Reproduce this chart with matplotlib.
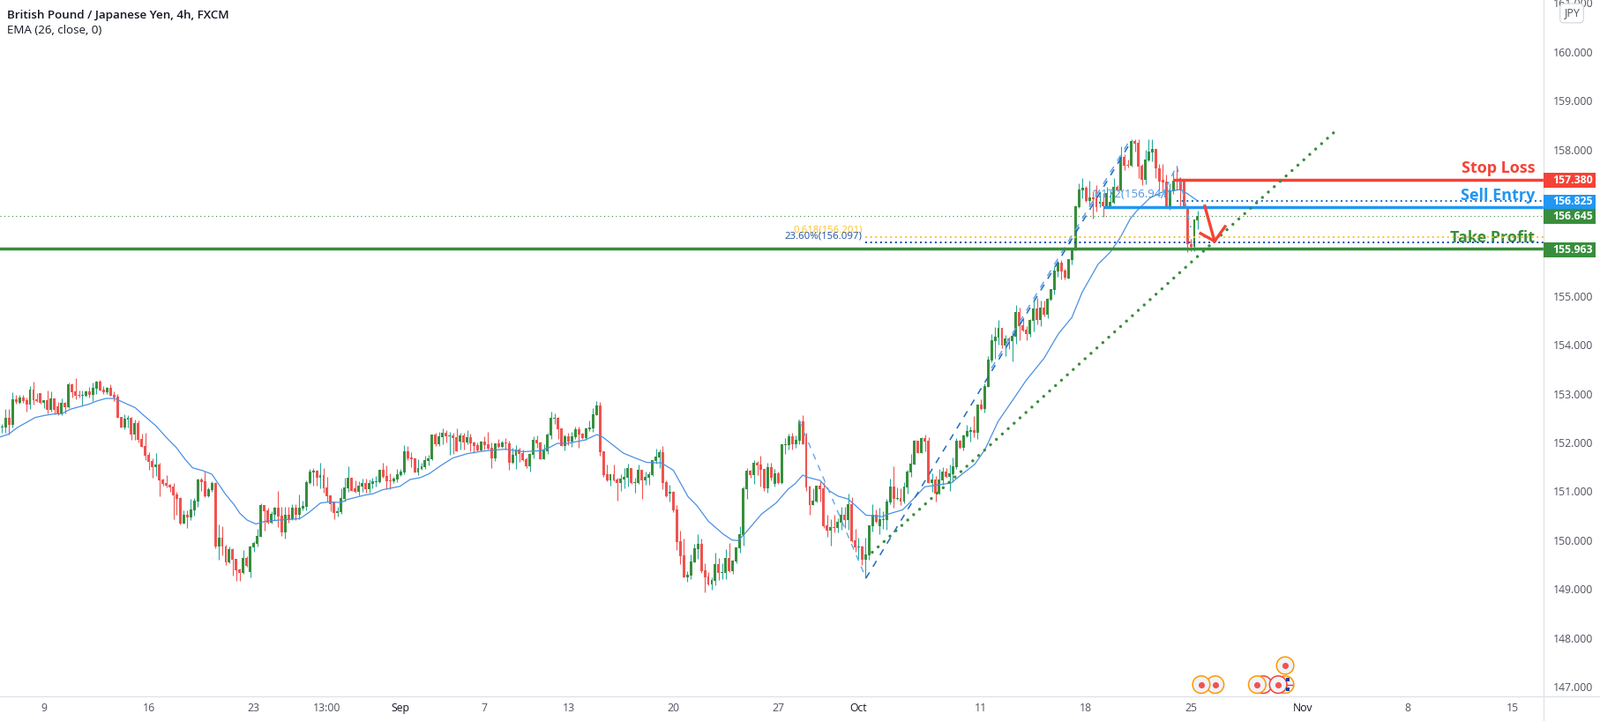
import numpy as np
import matplotlib
matplotlib.use('Agg')
import matplotlib.pyplot as plt

plt.rcParams['font.family'] = 'Open Sans'

# 4h candles
opens = [
    152.31,152.31,152.51,152.36,152.89,152.81,152.92,152.87,152.78,153.08,
    152.88,153.01,152.81,152.87,152.67,152.90,152.74,152.58,152.81,152.72,
    153.19,153.05,152.97,152.96,152.96,153.05,152.97,153.10,153.25,153.08,
    153.03,153.12,152.97,152.94,152.52,152.31,152.47,152.51,152.16,152.40,
    152.07,151.93,151.75,151.62,151.49,151.55,151.24,151.17,151.13,151.10,
    150.93,150.86,150.34,150.52,150.47,150.61,150.79,151.24,151.21,150.90,
    151.02,151.17,149.87,150.05,149.87,149.55,149.82,149.62,149.40,149.33,
    149.64,149.35,149.85,149.92,150.07,150.72,150.61,150.36,150.52,150.66,
    150.50,150.16,150.52,150.43,150.66,150.52,150.65,150.68,151.17,151.39,
    151.42,151.28,151.33,151.08,150.92,150.77,150.56,150.57,150.84,151.06,
    151.28,151.06,150.99,151.10,151.17,151.04,151.15,151.19,151.19,151.44,
    151.31,151.22,151.21,151.24,151.33,151.39,151.82,151.69,151.67,151.39,
    151.46,151.49,151.62,151.66,152.16,151.96,152.11,152.20,152.13,152.14,
    152.11,152.02,152.14,152.00,152.11,152.00,151.95,151.84,152.02,151.96,
    151.89,151.67,151.98,151.91,152.00,151.98,151.58,151.73,151.86,151.78,
    151.66,151.51,151.75,152.05,152.00,151.66,151.82,152.14,152.49,152.51,
    152.29,151.93,152.13,152.02,152.11,152.27,152.18,152.09,152.27,152.29,
    152.56,152.76,151.82,151.35,151.22,151.35,151.24,151.17,151.24,151.28,
    151.48,151.17,151.17,151.44,151.22,151.28,151.33,151.62,151.69,151.80,
    151.19,150.95,150.99,150.63,149.98,149.69,149.24,149.27,149.55,149.82,
    149.92,149.38,149.26,149.09,149.17,149.51,149.33,149.33,149.64,149.36,
    149.56,149.83,150.10,151.04,151.42,151.33,151.58,151.55,151.46,151.06,
    151.49,151.15,151.37,151.17,151.95,151.95,152.13,151.96,152.04,152.43,
    152.14,151.10,150.72,150.79,151.12,151.06,150.30,150.20,150.27,150.25,
    150.36,150.52,150.41,150.74,150.00,149.85,149.87,149.60,149.69,150.29,
    150.52,150.29,150.41,150.41,150.77,151.10,150.84,150.86,150.79,151.08,
    151.39,151.55,152.04,151.78,152.09,152.04,151.17,151.24,150.95,151.22,
    151.40,151.30,151.35,151.49,152.04,151.89,152.13,152.22,152.25,152.20,
    152.78,152.69,153.14,153.68,154.08,154.15,154.35,153.99,154.13,154.08,
    154.17,154.67,154.40,154.31,154.22,154.49,154.74,154.51,154.76,154.62,
    154.92,155.12,155.50,155.68,155.52,155.36,155.74,155.93,156.82,157.16,
    157.22,156.95,157.02,157.00,156.89,156.93,156.84,156.84,156.91,157.23,
    157.16,157.85,157.69,157.67,158.17,158.14,157.67,157.38,157.78,157.94,
    158.01,157.61,157.38,157.34,156.84,157.14,157.38,157.40,157.36,156.82,
    156.06,156.01,156.55,
]
highs = [
    152.38,152.69,152.69,153.03,152.97,152.97,152.97,152.92,153.16,153.25,
    153.01,153.01,152.87,153.06,153.05,152.90,152.83,152.90,152.83,153.23,
    153.21,153.32,153.06,153.06,153.06,153.14,153.23,153.26,153.28,153.16,
    153.14,153.19,153.05,152.99,152.52,152.58,152.56,152.52,152.47,152.45,
    152.18,152.20,151.80,151.67,151.78,151.58,151.26,151.33,151.15,151.17,
    150.99,150.88,150.61,150.61,150.84,150.86,151.26,151.28,151.40,151.08,
    151.21,151.19,150.32,150.28,149.91,149.87,149.83,149.62,149.42,149.80,
    149.67,149.89,149.98,150.23,150.75,150.72,150.66,150.59,150.68,151.01,
    150.68,150.68,150.68,150.74,150.74,150.93,150.81,151.22,151.46,151.48,
    151.44,151.58,151.48,151.30,150.92,150.79,150.68,151.06,151.28,151.51,
    151.28,151.22,151.21,151.26,151.26,151.24,151.28,151.31,151.44,151.58,
    151.53,151.37,151.30,151.46,151.46,151.95,151.93,151.80,151.67,151.66,
    151.58,151.73,151.75,152.16,152.20,152.22,152.29,152.25,152.22,152.20,
    152.29,152.20,152.20,152.25,152.18,152.02,152.00,152.04,152.13,152.22,
    152.00,151.98,152.07,152.04,152.09,152.04,151.89,151.95,151.89,151.86,
    151.69,151.78,152.13,152.14,152.02,151.96,152.20,152.63,152.60,152.52,
    152.29,152.16,152.20,152.22,152.32,152.32,152.20,152.31,152.45,152.70,
    152.85,152.83,151.82,151.55,151.35,151.55,151.28,151.35,151.48,151.57,
    151.48,151.28,151.55,151.44,151.40,151.40,151.64,151.87,151.86,151.93,
    151.22,151.13,151.01,150.72,150.20,150.03,149.36,149.71,149.92,150.12,
    150.03,149.53,149.35,149.24,149.74,149.64,149.53,149.82,149.94,149.60,
    149.85,150.29,151.10,151.48,151.44,151.64,151.62,151.73,151.46,151.58,
    151.58,151.46,151.40,151.96,152.09,152.18,152.20,152.14,152.47,152.56,
    152.20,151.12,151.06,151.12,151.21,151.19,150.52,150.43,150.52,150.45,
    150.68,150.68,150.95,150.88,150.23,150.05,149.89,150.05,150.30,150.74,
    150.63,150.66,150.59,150.84,151.26,151.51,151.08,151.06,151.19,151.44,
    151.77,152.05,152.04,152.11,152.16,152.11,151.37,151.31,151.46,151.49,
    151.48,151.55,151.69,152.09,152.05,152.16,152.36,152.33,152.54,152.78,
    152.88,153.21,153.77,154.22,154.36,154.51,154.35,154.20,154.17,154.27,
    154.82,154.76,154.56,154.38,154.53,154.89,154.96,154.90,154.90,154.96,
    155.14,155.59,155.72,155.74,155.56,155.75,155.97,156.86,157.31,157.41,
    157.25,157.36,157.14,157.27,157.14,157.11,157.24,157.16,157.41,157.27,
    158.06,157.90,157.79,158.21,158.21,158.21,157.70,157.99,158.21,158.21,
    158.01,157.70,157.70,157.49,157.31,157.54,157.67,157.43,157.36,156.82,
    156.17,156.57,156.75,
]
lows = [
    152.20,152.20,152.16,152.31,152.79,152.79,152.81,152.63,152.69,152.78,
    152.83,152.79,152.70,152.60,152.63,152.58,152.56,152.56,152.60,152.70,
    152.92,152.88,152.92,152.76,152.94,152.92,152.85,152.99,153.06,152.99,
    152.99,152.96,152.85,152.51,152.31,152.27,152.31,152.05,152.05,152.00,
    151.91,151.64,151.44,151.28,151.31,150.90,151.12,151.08,150.99,150.43,
    150.52,150.32,150.34,150.25,150.41,150.50,150.68,151.01,150.88,150.88,
    150.99,149.83,149.60,149.69,149.49,149.53,149.27,149.17,149.17,149.31,
    149.45,149.24,149.76,149.87,150.07,150.20,150.34,150.34,150.41,150.27,
    150.09,150.03,150.36,150.41,150.41,150.43,150.61,150.61,151.15,151.12,
    151.12,151.06,150.97,150.79,150.59,150.43,150.48,150.54,150.79,150.99,
    151.01,150.97,150.92,150.99,150.97,150.97,151.06,151.10,151.17,151.28,
    151.04,151.04,151.17,151.19,151.31,151.35,151.64,151.49,151.39,151.33,
    151.44,151.46,151.53,151.64,151.93,151.93,151.96,152.00,151.75,151.77,
    151.82,151.86,151.86,151.96,151.82,151.78,151.82,151.82,151.86,151.86,
    151.48,151.62,151.89,151.89,151.86,151.44,151.57,151.46,151.60,151.62,
    151.48,151.40,151.67,151.89,151.66,151.66,151.77,152.07,152.38,152.07,
    151.93,151.84,151.95,151.91,152.07,151.89,152.07,152.05,152.23,152.22,
    152.56,151.73,151.30,151.21,151.12,151.21,150.81,151.01,151.06,151.10,
    151.15,150.97,151.15,150.84,151.13,151.13,151.31,151.57,151.48,151.04,
    150.88,150.79,150.57,149.80,149.51,149.24,149.15,149.20,149.54,149.62,
    149.33,148.93,149.08,148.99,149.08,149.18,149.20,149.20,149.35,149.31,
    149.53,149.74,149.89,150.84,151.28,151.15,151.33,151.10,151.01,150.97,
    151.22,151.10,151.15,151.15,151.77,151.86,151.86,151.89,151.96,151.96,
    151.01,150.52,150.72,150.77,150.79,150.25,150.07,149.89,150.16,150.16,
    150.21,150.25,150.21,149.96,149.76,149.62,149.49,149.22,149.60,150.18,
    150.36,150.12,150.23,150.21,150.74,150.66,150.83,150.72,150.75,150.95,
    151.30,151.55,151.78,151.78,151.82,151.17,150.99,150.79,150.93,151.13,
    151.28,151.01,151.19,151.46,151.87,151.84,152.11,152.02,152.11,152.07,
    152.67,152.61,153.14,153.64,153.71,154.00,153.93,153.77,153.91,153.66,
    154.02,154.09,154.27,154.09,154.17,154.27,154.42,154.38,154.58,154.54,
    154.91,155.03,155.39,155.34,155.34,155.36,155.65,155.93,156.80,157.00,
    156.93,156.84,156.58,156.73,156.82,156.62,156.82,156.82,156.89,157.15,
    157.14,157.58,157.63,157.65,157.96,157.41,157.27,157.29,157.76,157.76,
    157.41,157.16,157.16,156.84,156.77,157.09,157.18,156.84,156.80,155.90,
    155.92,155.92,156.37,
]
closes = [
    152.32,152.51,152.36,152.89,152.82,152.92,152.85,152.78,153.08,152.87,
    152.85,152.81,152.87,152.67,152.90,152.67,152.58,152.81,152.72,153.19,
    153.03,152.96,152.96,152.97,153.05,152.97,153.12,153.25,153.06,153.03,
    153.12,152.96,152.92,152.51,152.31,152.49,152.51,152.16,152.40,152.05,
    151.91,151.73,151.60,151.49,151.55,151.22,151.15,151.12,151.08,150.92,
    150.85,150.34,150.52,150.47,150.63,150.81,151.24,151.19,150.89,151.04,
    151.17,149.87,150.05,149.87,149.55,149.82,149.60,149.38,149.33,149.64,
    149.47,149.87,149.94,150.09,150.72,150.59,150.36,150.54,150.66,150.48,
    150.16,150.52,150.43,150.66,150.52,150.66,150.70,151.19,151.40,151.42,
    151.28,151.33,151.06,150.90,150.74,150.56,150.59,150.86,151.08,151.28,
    151.01,150.99,151.12,151.17,151.04,151.17,151.21,151.21,151.44,151.30,
    151.21,151.21,151.26,151.35,151.40,151.82,151.67,151.66,151.39,151.48,
    151.51,151.64,151.67,152.16,151.96,152.13,152.20,152.13,152.14,152.09,
    151.82,152.14,152.00,152.11,151.98,151.93,151.84,152.02,151.95,151.87,
    151.67,151.98,151.91,152.00,151.98,151.58,151.75,151.86,151.77,151.64,
    151.51,151.77,152.05,151.98,151.66,151.84,152.16,152.51,152.51,152.27,
    151.93,152.13,152.02,152.13,152.27,152.16,152.09,152.29,152.31,152.58,
    152.76,151.80,151.33,151.22,151.35,151.22,151.17,151.26,151.30,151.48,
    151.17,151.19,151.44,151.22,151.30,151.35,151.64,151.71,151.80,151.17,
    150.90,150.99,150.61,149.96,149.67,149.24,149.29,149.56,149.83,149.92,
    149.36,149.24,149.09,149.18,149.51,149.33,149.35,149.64,149.36,149.58,
    149.85,150.12,151.06,151.42,151.33,151.58,151.53,151.44,151.06,151.49,
    151.28,151.37,151.17,151.96,151.96,152.13,151.96,152.05,152.43,151.96,
    151.08,150.72,150.81,151.12,151.04,150.29,150.20,150.27,150.25,150.38,
    150.52,150.41,150.74,149.98,149.85,149.87,149.60,149.71,150.30,150.52,
    150.38,150.43,150.43,150.79,151.10,150.84,150.86,150.79,151.10,151.40,
    151.57,152.04,151.78,152.09,152.02,151.17,151.24,150.95,151.24,151.40,
    151.30,151.37,151.51,152.04,151.89,152.14,152.23,152.25,152.20,152.78,
    152.69,153.15,153.70,154.09,154.17,154.35,153.99,154.13,154.08,154.18,
    154.67,154.38,154.29,154.22,154.51,154.74,154.51,154.76,154.62,154.94,
    155.14,155.52,155.68,155.50,155.37,155.75,155.93,156.84,157.18,157.22,
    156.95,157.02,156.98,156.82,156.93,156.84,157.11,156.93,157.23,157.16,
    157.85,157.67,157.67,158.17,158.12,157.65,157.38,157.79,157.96,158.01,
    157.61,157.34,157.32,156.84,157.16,157.36,157.36,157.16,156.80,156.06,
    156.01,156.57,156.64,
]

# EMA line, read at the bars where it bends
ema_bars = [
    -0.6,1.9,4.5,7,9.5,12,14.6,17.1,19.6,22.1,24.7,27.2,29.7,32.2,34.7,38.1,40.6,44,47.4,49.9,
    52.4,54.5,57.5,60,62.1,63.8,66.3,68,70.1,72.6,75.1,79.3,83.5,85.2,87.7,91.1,93.6,97,98.7,103.7,
    106.2,108.8,113.8,116.7,119.7,122.2,125.6,128.9,133.1,136.5,139.9,144.1,149.1,154.1,156.7,158.8,161.7,166.8,170.1,171.8,
    175.2,177.7,181.1,184.4,188.6,192,196.2,198.7,202.1,206.3,208.8,210.5,212.2,217.2,221.4,224.8,226.9,229,230.7,234,
    236.6,239.1,242,245,247.1,251.7,253.4,257.6,260.1,263.9,266.8,271.5,274.4,278.2,281.1,284.9,289.5,292.9,298,302.2,
    306,308.9,313.5,316.9,319.8,322.7,324.4,328.2,331.6,334.5,337,339.1,342.1,
]
ema_vals = [
    152.11,152.17,152.31,152.41,152.51,152.55,152.58,152.59,152.68,152.73,152.78,152.85,152.90,152.90,152.82,152.71,152.55,152.34,152.07,151.89,
    151.65,151.48,151.42,151.35,151.13,150.95,150.73,150.55,150.41,150.33,150.38,150.41,150.43,150.44,150.56,150.76,150.78,150.77,150.83,150.92,
    150.95,151.03,151.10,151.24,151.28,151.36,151.53,151.68,151.77,151.81,151.84,151.86,151.81,151.83,151.90,151.98,151.98,152.05,152.16,152.11,
    151.92,151.78,151.68,151.59,151.58,151.43,150.89,150.71,150.38,150.12,150.00,149.99,150.11,150.53,150.76,151.04,151.16,151.33,151.28,151.22,
    151.01,150.90,150.84,150.65,150.51,150.48,150.53,150.62,150.80,151.09,151.12,151.17,151.34,151.55,151.85,152.43,152.91,153.27,153.72,154.23,
    154.56,155.07,155.65,155.89,156.19,156.58,156.73,157.00,157.12,157.15,157.18,157.09,156.94,
]

price_ticks = [147, 148, 149, 150, 151, 152, 153, 154, 155, 156, 157, 158, 159, 160, 161]
date_ticks = [12, 42, 72, 93, 114, 138, 162, 192, 222, 245, 280, 310, 340, 372, 402, 432]
date_labels = ['9', '16', '23', '13:00', 'Sep', '7', '13', '20', '27', 'Oct', '11', '18', '25', 'Nov', '8', '15']

stop_loss = 157.380
sell_entry = 156.825
last_price = 156.645
take_profit = 155.963
fib_618 = 156.201
fib_236 = 156.097
fib_1172 = 156.95

# drawings, bar and price pairs
down_leg_bars = [227.9, 247.1]
down_leg_vals = [152.46, 149.22]
up_leg_bars = [247.1, 323]
up_leg_vals = [149.22, 158.17]
up_leg2_bars = [283, 323]
up_leg2_vals = [153.52, 158.24]
last_leg_bars = [331.5, 336, 340]
last_leg_vals = [157.0, 157.67, 156.4]
trend_bars = [248.9, 381.9]
trend_vals = [149.75, 158.41]
# later entries sit on top
event_bars = [347, 343, 360.7, 359, 367, 365, 367]
event_vals = [147.04, 147.04, 147.04, 147.04, 147.04, 147.04, 147.43]
event_rings = ['#ff9800', '#ff9800', '#f44336', '#ff9800', '#ff9800', '#f44336', '#ff9800']
dot_bars = [347, 343, 359, 365, 367]
dot_vals = [147.04, 147.04, 147.04, 147.04, 147.43]

fig = plt.figure(figsize=(18.14, 8.18), dpi=100)
ax = fig.add_axes([0, 28 / 818, 1750 / 1814, 790 / 818])
ax.set_xlim(-0.58, 440.9)
ax.set_ylim(146.80, 161.06)

o = np.array(opens)
h = np.array(highs)
l = np.array(lows)
c = np.array(closes)
idx = np.arange(len(o))
up = c >= o

# candles
ax.vlines(idx[up], l[up], h[up], color='#26a69a', lw=0.8, zorder=2)
ax.vlines(idx[~up], l[~up], h[~up], color='#ef5350', lw=0.8, zorder=2)
body = np.maximum(np.abs(c - o), 0.02)
ax.bar(idx[up], body[up], bottom=np.minimum(o, c)[up], width=0.74, color='#388e3c', lw=0, zorder=3)
ax.bar(idx[~up], body[~up], bottom=np.minimum(o, c)[~up], width=0.74, color='#ef5350', lw=0, zorder=3)

ax.plot(ema_bars, ema_vals, color='#4a90e2', lw=0.9, zorder=4)

# fib legs
ax.plot(down_leg_bars, down_leg_vals, color='#64a5e8', lw=1, ls=(0, (5, 5)), zorder=4)
ax.plot(up_leg_bars, up_leg_vals, color='#1e6bc4', lw=1.1, ls=(0, (5, 5)), zorder=4)
ax.plot(up_leg2_bars, up_leg2_vals, color='#64a5e8', lw=1.1, ls=(0, (5, 5)), zorder=4)
ax.plot(last_leg_bars, last_leg_vals, color='#64a5e8', lw=1, ls=(0, (5, 5)), zorder=4)

# level lines
xmax = ax.get_xlim()[1]
ax.axhline(last_price, color='#388e3c', lw=0.8, ls=(0, (1, 3)), zorder=1)
ax.plot([247, xmax], [fib_618, fib_618], color='#fbc02d', lw=1.4, ls=(0, (1, 1.9)), zorder=4)
ax.plot([247, xmax], [fib_236, fib_236], color='#0d47a1', lw=1.4, ls=(0, (1, 1.9)), zorder=4)
ax.plot([336, xmax], [fib_1172, fib_1172], color='#1e6bc4', lw=1.4, ls=(0, (1, 1.9)), zorder=4)
ax.axhline(take_profit, color='#388e3c', lw=2.5, zorder=5)
ax.plot([315, xmax], [sell_entry, sell_entry], color='#2196f3', lw=2.5, solid_capstyle='butt', zorder=5)
ax.plot([335, xmax], [stop_loss, stop_loss], color='#f44336', lw=2.5, solid_capstyle='butt', zorder=5)

# rising support
ax.plot(trend_bars, trend_vals, color='#388e3c', lw=2.5, ls=(0, (0.01, 2.6)),
        dash_capstyle='round', zorder=5)

# red arrow
ax.plot([344, 346.8], [156.84, 156.12], color='#f44336', lw=2.4, zorder=6)
ax.plot([342.8, 346.8, 349.8], [156.28, 156.12, 156.42], color='#f44336', lw=2.4, zorder=6)

ax.text(334.5, fib_1172 + 0.02, '1.172(156.941)', color='#4f94e0', fontsize=9.5, ha='right', va='bottom', zorder=6)
ax.text(246, 156.34, '0.618(156.201)', color='#fbc02d', fontsize=8.2, ha='right', va='center', zorder=6)
ax.text(246, 156.22, '23.60%(156.097)', color='#1e4fa0', fontsize=8.2, ha='right', va='center', zorder=6)
ax.text(0.9945, 157.62, 'Stop Loss', transform=ax.get_yaxis_transform(), color='#f44336',
        fontsize=13, fontweight='bold', ha='right', va='center', zorder=3.5)
ax.text(0.9945, 157.05, 'Sell Entry', transform=ax.get_yaxis_transform(), color='#2196f3',
        fontsize=13, fontweight='bold', ha='right', va='center', zorder=3.5)
ax.text(0.9945, 156.19, 'Take Profit', transform=ax.get_yaxis_transform(), color='#388e3c',
        fontsize=13, fontweight='bold', ha='right', va='center', zorder=3.5)

# event markers at the bottom
ax.scatter(event_bars, event_vals, s=200, facecolor='#f0f3fa', edgecolor=event_rings, lw=1.1, zorder=6)
ax.scatter(dot_bars, dot_vals, s=26, color='#ef5350', lw=0, zorder=7)
ax.plot([367.4, 369], [147.04, 147.04], color='#e53935', lw=1, zorder=7)
ax.scatter([367.8, 367.8], [147.14, 146.94], s=8, color='#1a3e9c', marker='s', lw=0, zorder=7)

ax.spines['top'].set_visible(False)
ax.spines['left'].set_visible(False)
ax.spines['right'].set_visible(False)
ax.spines['bottom'].set_visible(False)
ax.yaxis.tick_right()
ax.set_yticks(price_ticks)
ax.set_yticklabels(['%.3f' % p for p in price_ticks], color='#50535e', fontsize=8.8)
ax.set_xticks(date_ticks)
ax.set_xticklabels(date_labels, color='#50535e', fontsize=8.8)
for lab in ax.get_xticklabels():
    if lab.get_text() in ('Sep', 'Oct', 'Nov'):
        lab.set_color('#131722')
ax.tick_params(axis='y', length=0, pad=7.7)
ax.tick_params(axis='x', length=0, pad=5)
ax.patch.set_alpha(0)

# chart frame runs to the figure edges
fig.add_artist(plt.Line2D([1750 / 1814, 1750 / 1814], [0, 1], color='#e0e3eb', lw=1))
fig.add_artist(plt.Line2D([0, 1], [28 / 818, 28 / 818], color='#e0e3eb', lw=1))

# price tags
tags = [(157.380, 204.3, '#f44336'), (156.825, 229, '#2196f3'), (156.645, 245.3, '#388e3c'), (155.963, 283.3, '#388e3c')]
for val, ypx, col in tags:
    fig.patches.append(plt.Rectangle((1750 / 1814, 1 - (ypx + 8.4) / 818), 59 / 1814, 16.8 / 818,
                                     transform=fig.transFigure, facecolor=col, lw=0, zorder=5))
    fig.text(1760.5 / 1814, 1 - ypx / 818, '%.3f' % val, color='white', fontsize=8.8, fontweight='bold',
             ha='left', va='center', zorder=6)

# currency badge
fig.text(1782 / 1814, 1 - 15 / 818, 'JPY', color='#50535e', fontsize=9, ha='center', va='center', zorder=8,
         bbox=dict(boxstyle='round,pad=0.35', facecolor='white', edgecolor='#d1d4dc', lw=0.8))

fig.text(8 / 1814, 1 - 17 / 818, 'British Pound / Japanese Yen, 4h, FXCM', color='#131722',
         fontsize=9.6, fontweight='semibold', ha='left', va='center')
fig.text(8 / 1814, 1 - 35 / 818, 'EMA (26, close, 0)', color='#131722', fontsize=9.6, ha='left', va='center')

fig.savefig('out.png', dpi=100)
